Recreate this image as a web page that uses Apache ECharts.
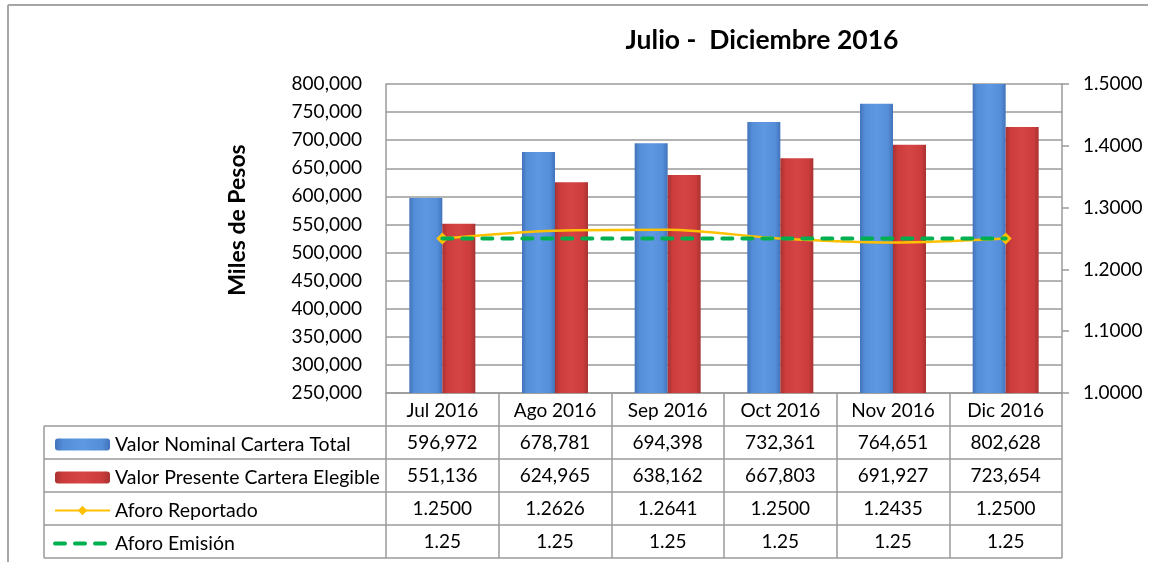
<!DOCTYPE html>
<html>
<head>
<meta charset="utf-8">
<script src="https://cdn.jsdelivr.net/npm/echarts@6/dist/echarts.min.js"></script>
<style>
html,body{margin:0;padding:0;background:#fff;}
#main{width:1151px;height:562px;}
</style>
</head>
<body>
<div id="main"></div>
<script>
const titleText = 'Julio -  Diciembre 2016';
const yAxisTitle = 'Miles de Pesos';
const categories = ['Jul 2016', 'Ago 2016', 'Sep 2016', 'Oct 2016', 'Nov 2016', 'Dic 2016'];
const seriesNames = ['Valor Nominal Cartera Total', 'Valor Presente Cartera Elegible', 'Aforo Reportado', 'Aforo Emisión'];
const valorNominal = [596972, 678781, 694398, 732361, 764651, 802628];
const valorPresente = [551136, 624965, 638162, 667803, 691927, 723654];
const aforoReportado = [1.2500, 1.2626, 1.2641, 1.2500, 1.2435, 1.2500];
const aforoEmision = [1.25, 1.25, 1.25, 1.25, 1.25, 1.25];
const leftAxis = {min: 250000, max: 800000, interval: 50000};
const rightAxis = {min: 1.0, max: 1.5, interval: 0.1};

const FONT = 'Lato';
const FS = 19;
const gridL = 386, gridT = 84, gridR = 1062, gridB = 393;
const rowH = 33;
const legendX = 44;
const gray = '#9a9a9a';

function fmtInt(v) { return String(Math.round(v)).replace(/\B(?=(\d{3})+(?!\d))/g, ','); }

const blueGrad = new echarts.graphic.LinearGradient(0, 0, 1, 0, [
  {offset: 0, color: '#4273bb'}, {offset: 0.15, color: '#558ed8'},
  {offset: 0.5, color: '#5e97e2'}, {offset: 0.85, color: '#558ed8'}, {offset: 1, color: '#4273bb'}
]);
const redGrad = new echarts.graphic.LinearGradient(0, 0, 1, 0, [
  {offset: 0, color: '#a83232'}, {offset: 0.15, color: '#cc3c3c'},
  {offset: 0.5, color: '#d64545'}, {offset: 0.85, color: '#cc3c3c'}, {offset: 1, color: '#a83232'}
]);

const chart = echarts.init(document.getElementById('main'), null, {renderer: 'canvas'});
const last = categories.length - 1;

chart.setOption({
  animation: false,
  backgroundColor: '#fff',
  textStyle: {fontFamily: FONT},
  title: {
    text: titleText, left: 762, top: 27, textAlign: 'center', padding: 0,
    textStyle: {fontFamily: FONT, fontWeight: 'bold', fontSize: 26.5, color: '#000'}
  },
  grid: {left: gridL, top: gridT, right: 1151 - gridR, bottom: 562 - gridB, containLabel: false},
  legend: {
    orient: 'vertical', left: 53, top: 434.5, padding: 0, height: 125,
    itemWidth: 55, itemHeight: 12, itemGap: 13,
    textStyle: {fontFamily: FONT, fontSize: 19.5, color: '#000', lineHeight: 20},
    data: [
      {name: seriesNames[0]},
      {name: seriesNames[1]},
      {name: seriesNames[2]},
      {name: seriesNames[3], itemStyle: {opacity: 0}, lineStyle: {width: 4}}
    ],
    selectedMode: false
  },
  xAxis: {
    type: 'category', data: categories, boundaryGap: true,
    axisLine: {show: true, lineStyle: {color: gray, width: 1.5}},
    axisTick: {show: true, interval: 0, length: rowH * 5, lineStyle: {color: gray, width: 1.5}},
    axisLabel: {interval: 0, margin: 8, fontFamily: FONT, fontSize: FS, color: '#000'},
    splitLine: {show: false}
  },
  yAxis: [
    {
      type: 'value', min: leftAxis.min, max: leftAxis.max, interval: leftAxis.interval,
      axisLine: {show: true, lineStyle: {color: gray, width: 1.5}},
      axisTick: {show: false},
      axisLabel: {margin: 24, fontFamily: FONT, fontSize: FS, color: '#000', formatter: v => fmtInt(v)},
      splitLine: {show: true, lineStyle: {color: gray, width: 1.5}}
    },
    {
      type: 'value', min: rightAxis.min, max: rightAxis.max, interval: rightAxis.interval,
      position: 'right',
      axisLine: {show: true, lineStyle: {color: gray, width: 1.5}},
      axisTick: {show: true, length: 7, lineStyle: {color: gray, width: 1.5}},
      axisLabel: {margin: 21, fontFamily: FONT, fontSize: FS, color: '#000', formatter: v => v.toFixed(4)},
      splitLine: {show: false}
    }
  ],
  series: [
    {
      name: seriesNames[0], type: 'bar', data: valorNominal, yAxisIndex: 0,
      barWidth: 33, barGap: '0%', clip: true,
      itemStyle: {color: blueGrad, shadowColor: 'rgba(0,0,0,0.3)', shadowBlur: 3, shadowOffsetX: 1, shadowOffsetY: 1}
    },
    {
      name: seriesNames[1], type: 'bar', data: valorPresente, yAxisIndex: 0,
      barWidth: 33, barGap: '0%', clip: true,
      itemStyle: {color: redGrad, shadowColor: 'rgba(0,0,0,0.3)', shadowBlur: 3, shadowOffsetX: 1, shadowOffsetY: 1}
    },
    {
      name: seriesNames[2], type: 'line', data: aforoReportado, yAxisIndex: 1,
      smooth: 0.3, symbol: 'diamond',
      symbolSize: (v, p) => (p.dataIndex === 0 || p.dataIndex === last) ? 12 : 0,
      showAllSymbol: true,
      lineStyle: {color: '#ffc000', width: 2.5},
      itemStyle: {color: '#ffc000'}, z: 3
    },
    {
      name: seriesNames[3], type: 'line', data: aforoEmision, yAxisIndex: 1,
      symbol: 'none',
      lineStyle: {color: '#00b050', width: 4, type: [10, 10], cap: 'round'},
      itemStyle: {color: '#00b050'}, z: 4
    }
  ]
});

// Data table (cells placed through the category axis scale)
const tableRows = [
  valorNominal.map(fmtInt),
  valorPresente.map(fmtInt),
  aforoReportado.map(v => v.toFixed(4)),
  aforoEmision.map(v => v.toFixed(2))
];
const gfx = [];
gfx.push({type: 'line', shape: {x1: 8, y1: 5, x2: 1148, y2: 5}, style: {stroke: '#a6a6a6', lineWidth: 2}});
gfx.push({type: 'line', shape: {x1: 8, y1: 5, x2: 8, y2: 562}, style: {stroke: '#a6a6a6', lineWidth: 2}});
gfx.push({
  type: 'text', x: 238, y: 220, rotation: Math.PI / 2,
  style: {text: yAxisTitle, fontFamily: FONT, fontWeight: 'bold', fontSize: 23, fill: '#000', align: 'center', verticalAlign: 'middle'}
});
for (let r = 1; r <= 5; r++) {
  const y = gridB + r * rowH;
  gfx.push({type: 'line', shape: {x1: legendX, y1: y, x2: gridR, y2: y}, style: {stroke: gray, lineWidth: 1.5}});
}
gfx.push({type: 'line', shape: {x1: legendX, y1: gridB + rowH, x2: legendX, y2: gridB + 5 * rowH}, style: {stroke: gray, lineWidth: 1.5}});
tableRows.forEach((row, r) => {
  row.forEach((txt, i) => {
    const x = chart.convertToPixel({xAxisIndex: 0}, i);
    gfx.push({
      type: 'text', x: x, y: gridB + (r + 1.5) * rowH,
      style: {text: txt, fontFamily: FONT, fontSize: FS, fill: '#000', align: 'center', verticalAlign: 'middle'}
    });
  });
});
chart.setOption({graphic: gfx});
</script>
</body>
</html>
